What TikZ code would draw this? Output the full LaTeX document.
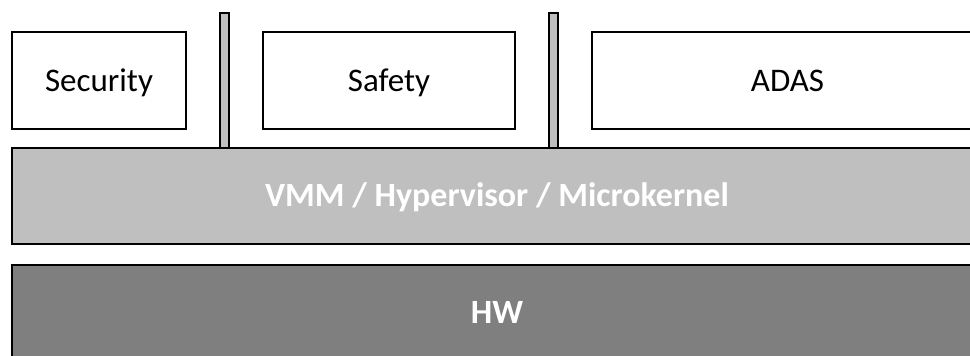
\documentclass[tikz,border=0pt]{standalone}
\usepackage{fontspec}
\setmainfont{Carlito}
\definecolor{lightlayer}{HTML}{BFBFBF}
\definecolor{darklayer}{HTML}{7F7F7F}
\begin{document}
\begin{tikzpicture}[x=1pt,y=-1pt,
  box/.style={draw=black,line width=2pt,inner sep=0pt,text height=21pt,text depth=0pt},
  guest/.style={box,fill=white,minimum height=97pt,font=\fontsize{33}{36}\selectfont},
  layer/.style={box,minimum height=96pt,minimum width=970pt,text=white,font=\fontsize{34}{36}\selectfont\bfseries},
  pillar/.style={draw=black,line width=2pt,fill=lightlayer,inner sep=0pt,minimum width=9pt,minimum height=135pt}
]
\useasboundingbox (0,0) rectangle (970,356);
\clip (0,0) rectangle (970,356);
% guest partitions
\node[guest,minimum width=174pt] (sec) at (99,80.5) {Security};
\node[guest,minimum width=252pt] (saf) at (389,80.5) {Safety};
\node[guest,minimum width=391pt] (adas) at (787.5,80.5) {ADAS};
% separation walls between partitions
\node[pillar] (w1) at (224.5,80.5) {};
\node[pillar] (w2) at (553.5,80.5) {};
% layers
\node[layer,fill=lightlayer] (vmm) at (497,196) {VMM / Hypervisor / Microkernel};
\node[layer,fill=darklayer] (hw) at (497,313) {HW};
\end{tikzpicture}
\end{document}
